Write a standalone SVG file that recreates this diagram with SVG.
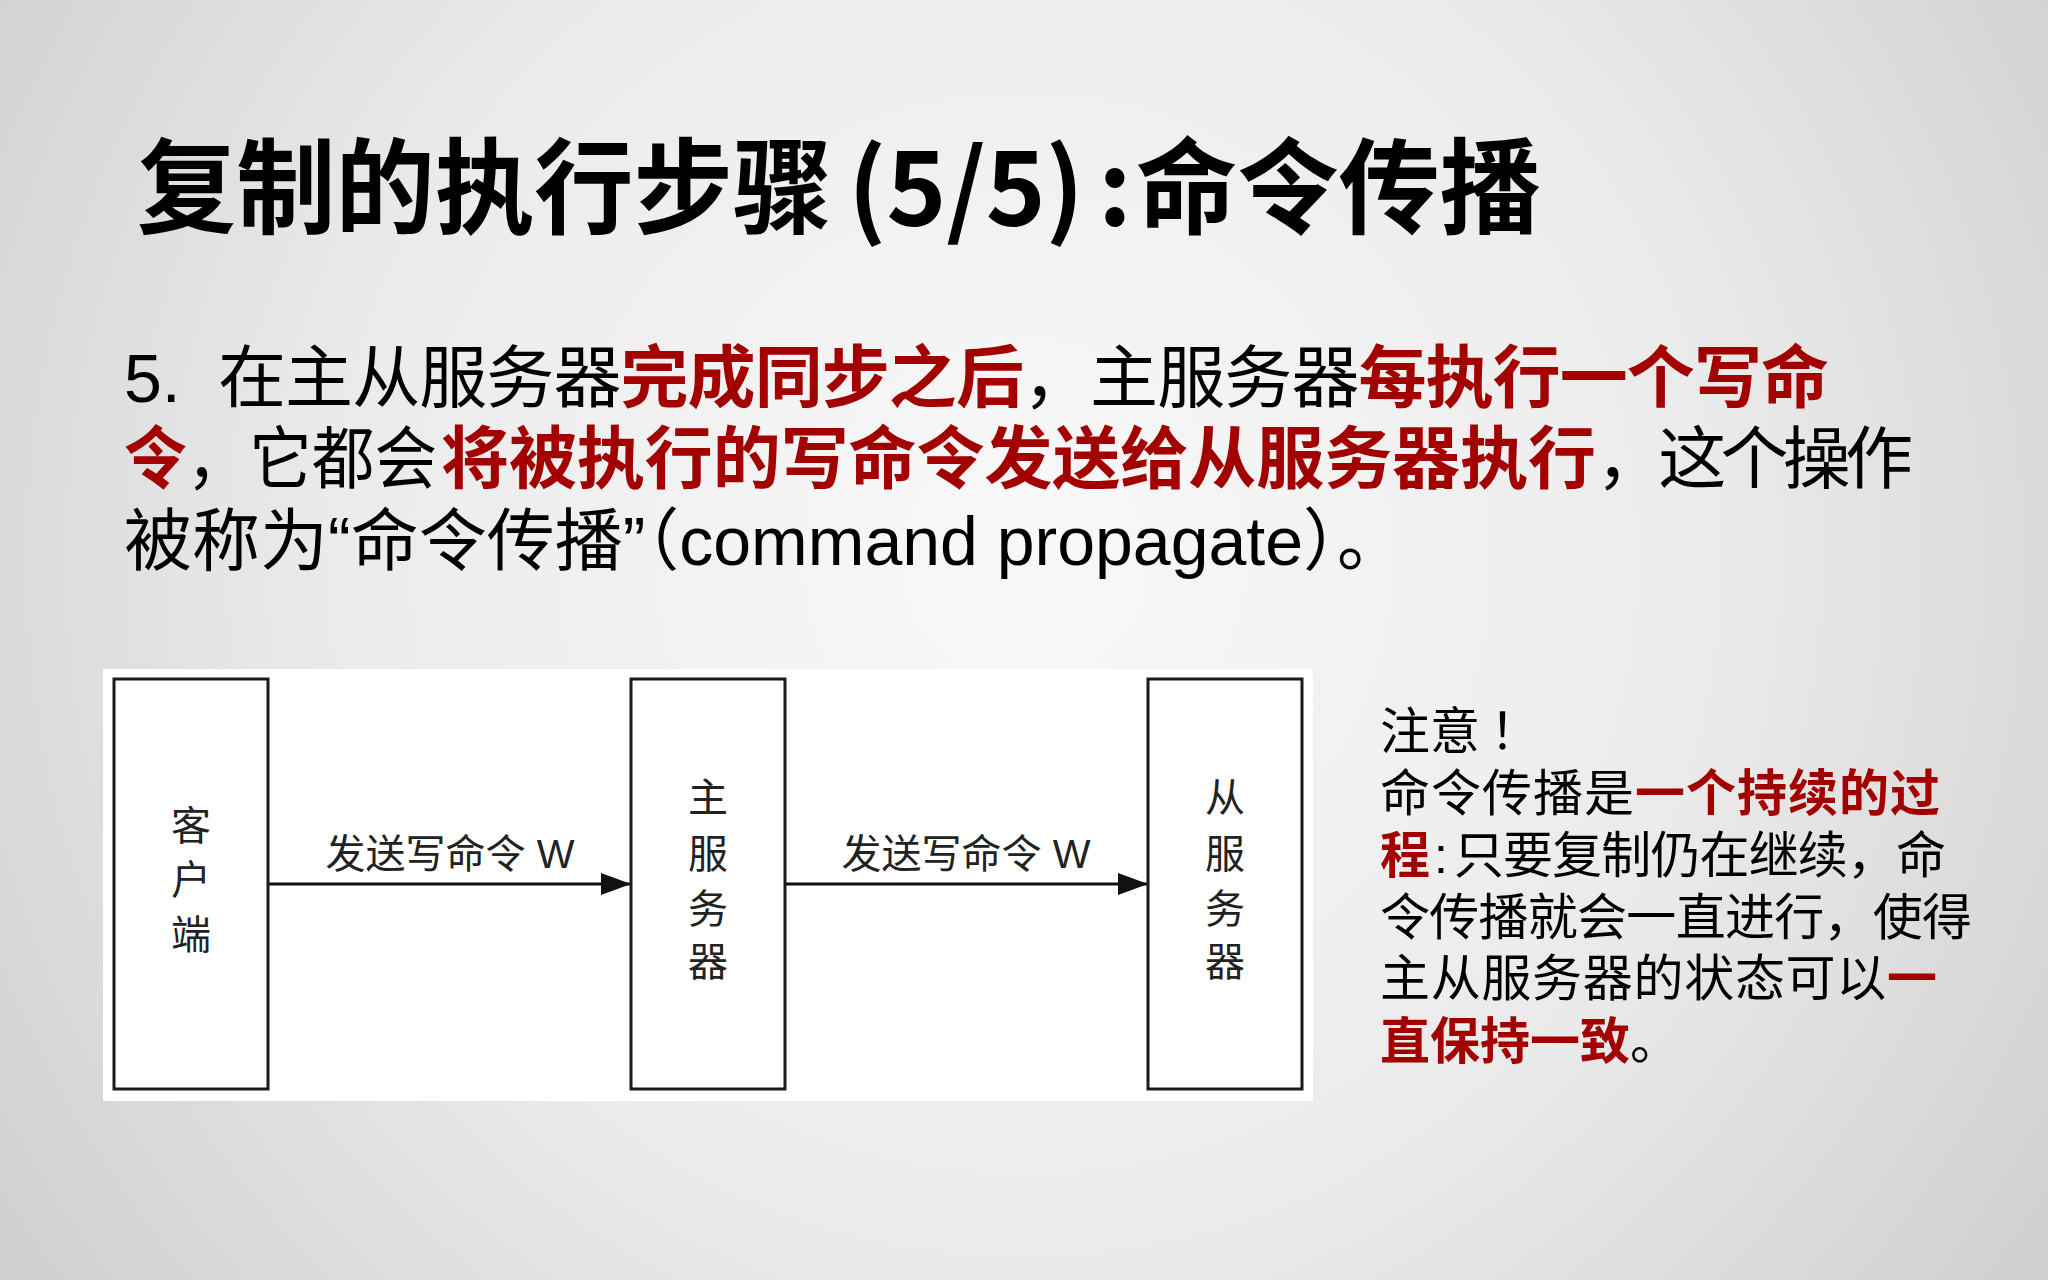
<svg xmlns="http://www.w3.org/2000/svg" width="2048" height="1280" viewBox="0 0 2048 1280">
<defs>
<radialGradient id="bg" cx="1024" cy="560" r="1250" gradientUnits="userSpaceOnUse">
<stop offset="0" stop-color="#f9f9f9"/>
<stop offset="0.55" stop-color="#ebebeb"/>
<stop offset="1" stop-color="#cfcfcf"/>
</radialGradient>
<marker id="arr" viewBox="0 0 30 22" refX="30" refY="11" markerWidth="30" markerHeight="22" markerUnits="userSpaceOnUse" orient="auto">
<path d="M0,0 L30,11 L0,22 Z" fill="#111"/>
</marker>
<style>
.t{font-family:"Liberation Sans","Noto Sans CJK SC",sans-serif;fill:#000}
.h{font-family:"Noto Sans CJK SC",sans-serif;font-size:104px;font-weight:700;fill:#000}
.r{fill:#a30000;font-weight:700}
.box{fill:#fff;stroke:#1a1a1a;stroke-width:3}
.lbl{font-family:"Noto Sans CJK SC",sans-serif;font-size:40px;fill:#222;text-anchor:middle}
.al{font-family:"Liberation Sans","Noto Sans CJK SC",sans-serif;font-size:40px;fill:#222;text-anchor:middle}
.con{stroke:#111;stroke-width:3;fill:none}
</style>
</defs>
<rect width="2048" height="1280" fill="url(#bg)"/>

<g id="title">
<text class="h" x="137" y="226" textLength="695" lengthAdjust="spacingAndGlyphs">复制的执行步骤</text>
<text class="h" x="848" y="226" font-family="Liberation Sans, sans-serif" textLength="236" lengthAdjust="spacingAndGlyphs">(5/5)</text>
<text class="h" x="1098" y="226" font-family="Liberation Sans, sans-serif">:</text>
<text class="h" x="1136" y="226" textLength="405" lengthAdjust="spacingAndGlyphs">命令传播</text>
</g>

<g id="paragraph" font-size="68">
<text class="t" x="124" y="402">5.</text>
<text class="t" x="218" y="402" textLength="1611" lengthAdjust="spacing">在主从服务器<tspan class="r">完成同步之后</tspan>，主服务器<tspan class="r">每执行一个写命</tspan></text>
<text class="t" x="124" y="483" textLength="313" lengthAdjust="spacingAndGlyphs"><tspan class="r">令</tspan>，它都会</text>
<text class="t r" x="441" y="483" textLength="1155" lengthAdjust="spacing">将被执行的写命令发送给从服务器执行</text>
<text class="t" x="1596" y="483" textLength="317" lengthAdjust="spacing">，这个操作</text>
<text class="t" x="124" y="565">被称为“命令传播”（command propagate）。</text>
</g>

<rect x="103" y="669" width="1210" height="432" fill="#fff"/>

<g id="connectors">
<line class="con" x1="268" y1="884" x2="631" y2="884" marker-end="url(#arr)"/>
<text class="al" x="450" y="868">发送写命令 W</text>
<line class="con" x1="785" y1="884" x2="1148" y2="884" marker-end="url(#arr)"/>
<text class="al" x="966" y="868">发送写命令 W</text>
</g>

<g id="client">
<rect class="box" x="114" y="679" width="154" height="410"/>
<text class="lbl" x="191" y="840">客</text>
<text class="lbl" x="191" y="894">户</text>
<text class="lbl" x="191" y="949">端</text>
</g>

<g id="master">
<rect class="box" x="631" y="679" width="154" height="410"/>
<text class="lbl" x="708" y="812">主</text>
<text class="lbl" x="708" y="868">服</text>
<text class="lbl" x="708" y="923">务</text>
<text class="lbl" x="708" y="976">器</text>
</g>

<g id="slave">
<rect class="box" x="1148" y="679" width="154" height="410"/>
<text class="lbl" x="1225" y="812">从</text>
<text class="lbl" x="1225" y="868">服</text>
<text class="lbl" x="1225" y="923">务</text>
<text class="lbl" x="1225" y="976">器</text>
</g>

<g id="note" font-size="50">
<text class="t" x="1380" y="749">注意<tspan x="1490">！</tspan></text>
<text class="t" x="1380" y="811" textLength="560" lengthAdjust="spacing">命令传播是<tspan class="r">一个持续的过</tspan></text>
<text class="t" x="1380" y="873"><tspan class="r">程</tspan></text>
<text class="t" x="1434" y="873">:</text>
<text class="t" x="1454" y="873" textLength="492" lengthAdjust="spacing">只要复制仍在继续，命</text>
<text class="t" x="1380" y="935" textLength="592" lengthAdjust="spacing">令传播就会一直进行，使得</text>
<text class="t" x="1380" y="996" textLength="557" lengthAdjust="spacing">主从服务器的状态可以<tspan class="r">一</tspan></text>
<text class="t" x="1380" y="1059"><tspan class="r">直保持一致</tspan>。</text>
</g>
</svg>
